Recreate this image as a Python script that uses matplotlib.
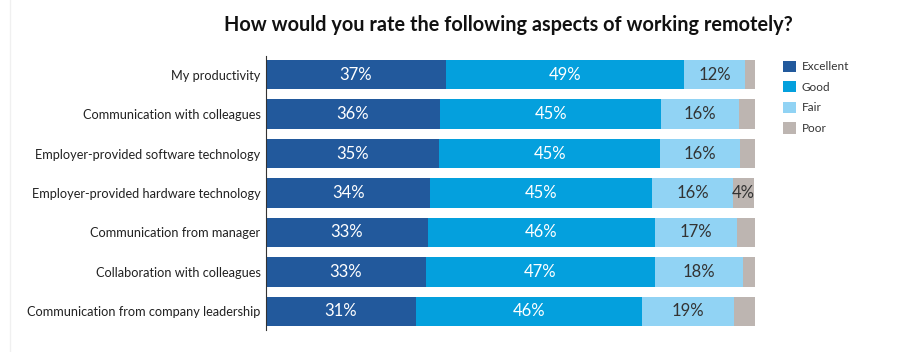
import matplotlib.pyplot as plt

# Survey data (percent of respondents)
categories = [
    'My productivity',
    'Communication with colleagues',
    'Employer-provided software technology',
    'Employer-provided hardware technology',
    'Communication from manager',
    'Collaboration with colleagues',
    'Communication from company leadership',
]
excellent = [36.8, 35.6, 35.4, 33.6, 33.1, 32.7, 30.7]
good = [48.7, 45.2, 45.2, 45.4, 46.4, 46.8, 46.2]
fair = [12.5, 16.0, 16.4, 16.4, 16.8, 18.0, 18.8]
poor = [2.0, 3.2, 3.0, 4.4, 3.7, 2.5, 4.3]

series = ['Excellent', 'Good', 'Fair', 'Poor']
colors = ['#22599c', '#04a0dd', '#91d3f4', '#bdb5b1']
text_colors = ['white', 'white', '#333333', '#333333']

plt.rcParams['font.family'] = ['Lato', 'DejaVu Sans']

fig = plt.figure(figsize=(9.02, 3.52), dpi=100)
ax = fig.add_axes([266 / 902, 1 - 330 / 352, 489 / 902, 274 / 352])

y = list(range(len(categories)))
left = [0] * len(categories)
for name, vals, c, tc in zip(series, [excellent, good, fair, poor], colors, text_colors):
    ax.barh(y, vals, left=left, height=0.74, color=c, label=name)
    for i, v in enumerate(vals):
        # only label segments wide enough for text
        if v >= 4.4:
            ax.text(left[i] + v / 2, i, f'{round(v)}%', ha='center', va='center',
                    color=tc, fontsize=12)
    left = [l + v for l, v in zip(left, vals)]

ax.set_xlim(0, 100)
ax.set_ylim(6.47, -0.47)
ax.set_yticks(y)
ax.set_yticklabels(categories, fontsize=9.2, color='#222222')
ax.tick_params(axis='y', length=0, pad=4)
ax.set_xticks([])
for s in ['top', 'right', 'bottom']:
    ax.spines[s].set_visible(False)
ax.spines['left'].set_color('#333333')
ax.spines['left'].set_linewidth(0.8)

fig.text(508 / 902, 1 - 25 / 352, 'How would you rate the following aspects of working remotely?',
         ha='center', va='center', fontsize=14.3, fontweight='bold', color='#111111')

fig.legend(loc='upper left', bbox_to_anchor=(772 / 902, 1 - 50 / 352), frameon=False,
           handlelength=1.1, handleheight=1.1, handletextpad=0.5, labelspacing=0.75,
           fontsize=8.5, labelcolor='#333333')

fig.add_artist(plt.Line2D([10 / 902, 10 / 902], [0, 1], color='#f0f0f0', lw=1))

fig.savefig('out.png', dpi=100)
